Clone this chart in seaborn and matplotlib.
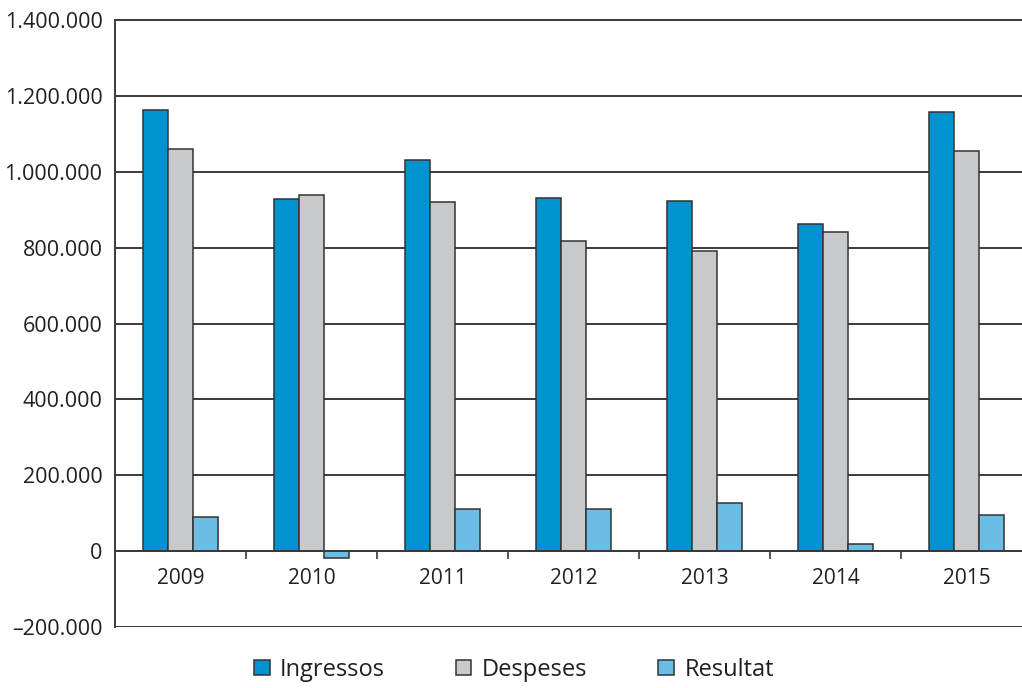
import pandas as pd
import matplotlib.pyplot as plt
import matplotlib.ticker as mticker
import seaborn as sns

# values
anys = ['2009', '2010', '2011', '2012', '2013', '2014', '2015']
ingressos = [1162000, 928000, 1032000, 932000, 922000, 862000, 1157000]
despeses = [1061000, 939000, 919000, 817000, 790000, 840000, 1055000]
resultat = [89000, -17000, 110000, 110000, 127000, 18000, 96000]

series = ['Ingressos', 'Despeses', 'Resultat']
colors = ['#0093d0', '#c8c9cb', '#6cbde6']

df = pd.DataFrame({
    'any': anys * 3,
    'valor': ingressos + despeses + resultat,
    'serie': [s for s in series for _ in anys],
})

sns.set_theme(style="white")
plt.rcParams['font.family'] = ['Open Sans', 'DejaVu Sans']

fig = plt.figure(figsize=(10.22, 6.88), dpi=100)
ax = fig.add_axes([115 / 1022, 61 / 688, 917 / 1022, 607 / 688])

sns.barplot(data=df, x='any', y='valor', hue='serie', palette=colors,
            hue_order=series, order=anys, width=0.57, saturation=1,
            edgecolor='#333333', linewidth=1.1, ax=ax, legend=False)

ax.set_ylim(-200000, 1400000)
ax.set_xlim(-0.5, 6.5)
ax.yaxis.set_major_locator(mticker.MultipleLocator(200000))
ax.yaxis.set_major_formatter(mticker.FuncFormatter(
    lambda v, p: '0' if v == 0 else ('\u2013' if v < 0 else '') + f'{abs(int(v)):,}'.replace(',', '.')))
ax.yaxis.grid(True, color='#3a3a3a', linewidth=1.4)
ax.set_axisbelow(True)

# category axis sits on the zero line
ax.spines['bottom'].set_position(('data', 0))
for side in ['bottom', 'left', 'top']:
    ax.spines[side].set_color('#3a3a3a')
    ax.spines[side].set_linewidth(1.4)
ax.spines['right'].set_visible(False)

ax.set_xticks([i + 0.5 for i in range(len(anys) - 1)], minor=True)
ax.tick_params(axis='x', which='minor', direction='out', length=6, width=1.2,
               color='#3a3a3a', bottom=True)
ax.tick_params(axis='x', which='major', length=0, pad=12, labelsize=15, labelcolor='#231f20')
ax.tick_params(axis='y', length=0, pad=9, labelsize=15.5, labelcolor='#231f20')
ax.set_xlabel('')
ax.set_ylabel('')

handles = [plt.Rectangle((0, 0), 1, 1, facecolor=c, edgecolor='#333333', linewidth=1.1)
           for c in colors]
fig.legend(handles, series, loc='lower center', bbox_to_anchor=(0.503, -0.022), ncol=3,
           frameon=False, fontsize=17, handlelength=0.65, handleheight=0.65,
           handletextpad=0.45, columnspacing=3.0, labelcolor='#231f20')

plt.savefig('out.png', dpi=100)
plt.close()
